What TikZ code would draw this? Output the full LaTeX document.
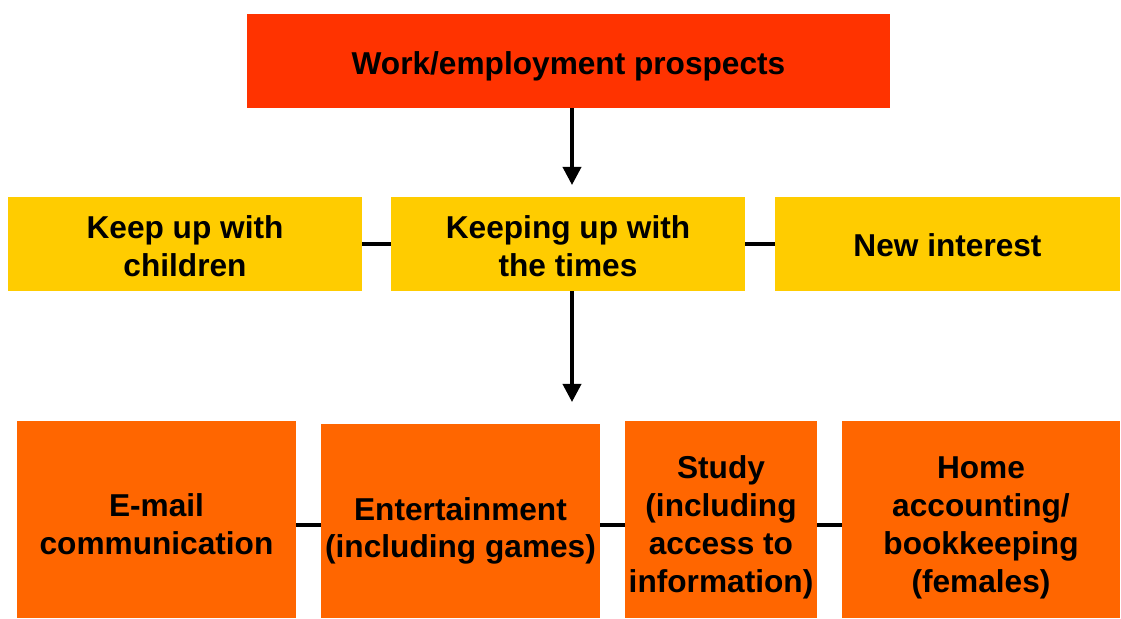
\documentclass[tikz,border=0pt]{standalone}
\usepackage{fontspec}
\setmainfont{Liberation Sans}
\usepackage{tikz}
\usetikzlibrary{arrows.meta}

\definecolor{topred}{HTML}{FF3300}
\definecolor{midyellow}{HTML}{FFCC00}
\definecolor{loworange}{HTML}{FF6600}
% lowered text block, natural size kept so the node stays centred
\newcommand{\boxtext}[2]{\raisebox{-#1}[\height][\depth]{\begin{tabular}{@{}c@{}}#2\end{tabular}}}

\begin{document}
\begin{tikzpicture}[x=0.025cm, y=-0.025cm, >={Triangle[width=0.45cm,length=0.45cm]},
    box/.style={inner sep=0pt, font=\fontsize{22.5}{27}\selectfont\bfseries},
    link/.style={line width=0.09cm}]
        \useasboundingbox (0,0) rectangle (1121,619);
        % top
        \node[box, fill=topred, minimum width=16.075cm, minimum height=2.35cm] (work) at (568.5, 61) {\boxtext{0.16cm}{Work/employment prospects}};
        % middle row
        \node[box, fill=midyellow, minimum width=8.85cm, minimum height=2.35cm] (kids) at (185, 244) {\boxtext{0.15cm}{Keep up with\\children}};
        \node[box, fill=midyellow, minimum width=8.85cm, minimum height=2.35cm] (times) at (568, 244) {\boxtext{0.15cm}{Keeping up with\\the times}};
        \node[box, fill=midyellow, minimum width=8.625cm, minimum height=2.35cm] (interest) at (947.5, 244) {\boxtext{0.12cm}{New interest}};
        % bottom row
        \node[box, fill=loworange, minimum width=6.975cm, minimum height=4.925cm] (email) at (156.5, 519.5) {\boxtext{0.22cm}{E-mail\\communication}};
        \node[box, fill=loworange, minimum width=6.975cm, minimum height=4.85cm] (games) at (460.5, 521) {\boxtext{0.26cm}{Entertainment\\(including games)}};
        \node[box, fill=loworange, minimum width=4.8cm, minimum height=4.925cm] (study) at (721, 519.5) {\boxtext{0.21cm}{Study\\(including\\access to\\information)}};
        \node[box, fill=loworange, minimum width=6.95cm, minimum height=4.925cm] (home) at (981, 519.5) {\boxtext{0.21cm}{Home\\accounting/\\bookkeeping\\(females)}};
        \coordinate (tip1) at (572, 185);
        \coordinate (tip2) at (572, 402);
        \coordinate (row) at (0, 525);
        \draw[link, ->] (work.south -| tip1) -- (tip1);
        \draw[link, ->] (times.south -| tip2) -- (tip2);
        \draw[link] (kids) -- (times);
        \draw[link] (times) -- (interest);
        \draw[link] (email.east |- row) -- (games.west |- row);
        \draw[link] (games.east |- row) -- (study.west |- row);
        \draw[link] (study.east |- row) -- (home.west |- row);
      \end{tikzpicture}
\end{document}
